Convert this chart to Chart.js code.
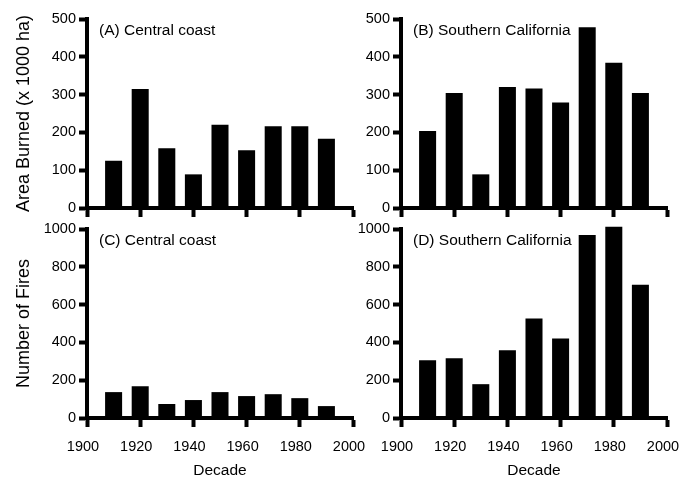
<!DOCTYPE html>
<html>
<head>
<meta charset="utf-8">
<script src="https://cdn.jsdelivr.net/npm/chart.js@4"></script>
<style>
  html, body { margin: 0; padding: 0; background: #fff; }
  #wrap { position: relative; width: 681px; height: 477px; overflow: hidden; }
  #wrap canvas { position: absolute; }
</style>
</head>
<body>
<div id="wrap">
  <canvas id="chartA" width="370" height="222" style="left:0;top:0"></canvas>
  <canvas id="chartB" width="340" height="222" style="left:355px;top:0"></canvas>
  <canvas id="chartC" width="385" height="270" style="left:0;top:210px"></canvas>
  <canvas id="chartD" width="345" height="270" style="left:355px;top:210px"></canvas>
</div>
<script>
// decades (bar centres)
const decades = [1910, 1920, 1930, 1940, 1950, 1960, 1970, 1980, 1990];

// area burned, x 1000 ha
const areaCentral = [125, 315, 158, 89, 220, 153, 216, 216, 183];
const areaSouthern = [204, 304, 89, 320, 316, 279, 478, 384, 304];

// number of fires
const firesCentral = [137, 168, 74, 95, 137, 116, 126, 105, 63];
const firesSouthern = [305, 316, 179, 358, 526, 421, 968, 1012, 705];

const panelTitles = ['(A) Central coast', '(B) Southern California', '(C) Central coast', '(D) Southern California'];
const areaTitle = 'Area Burned (x 1000 ha)';
const firesTitle = 'Number of Fires';
const xTitle = 'Decade';

const FONT = '"Liberation Sans", Arial, sans-serif';
const tickFont = { family: FONT, size: 14.5 };

// label in the top left corner of each panel
const panelLabel = {
    id: 'panelLabel',
    afterDraw(chart, args, opts) {
        const { ctx, chartArea } = chart;
        ctx.save();
        ctx.font = '15.5px ' + FONT;
        ctx.fillStyle = '#000';
        ctx.textBaseline = 'middle';
        ctx.fillText(opts.text, chartArea.left + 12, chartArea.top + 12);
        ctx.restore();
    }
};

function makeChart(id, values, cfg) {
    const canvas = document.getElementById(id);
    return new Chart(canvas, {
        type: 'bar',
        data: {
            datasets: [{
                data: decades.map((d, i) => ({ x: d, y: values[i] })),
                backgroundColor: '#000',
                borderWidth: 0,
                barPercentage: 0.64,
                categoryPercentage: 1,
                clip: false
            }]
        },
        options: {
            responsive: false,
            animation: false,
            events: [],
            layout: { padding: { left: 0, top: 19, right: cfg.padRight, bottom: 0 } },
            scales: {
                x: {
                    type: 'linear',
                    min: 1900,
                    max: 2000,
                    offset: false,
                    afterFit: s => { s.height = cfg.xHeight; },
                    grid: {
                        offset: false,
                        drawOnChartArea: false,
                        tickLength: 9,
                        tickWidth: 4,
                        tickColor: '#000'
                    },
                    border: { display: true, width: 4, color: '#000' },
                    ticks: {
                        display: cfg.showX,
                        stepSize: 20,
                        color: '#000',
                        font: tickFont,
                        padding: 11,
                        labelOffset: -4,
                        maxRotation: 0,
                        callback: v => String(v)
                    },
                    title: {
                        display: cfg.showX,
                        text: xTitle,
                        color: '#000',
                        font: { family: FONT, size: 15.5 },
                        padding: { top: 0, bottom: 0 }
                    }
                },
                y: {
                    min: 0,
                    max: cfg.yMax,
                    afterFit: s => { s.width = cfg.yWidth; },
                    grid: {
                        drawOnChartArea: false,
                        tickLength: 8,
                        tickWidth: 4,
                        tickColor: '#000'
                    },
                    border: { display: true, width: 4, color: '#000' },
                    ticks: {
                        stepSize: cfg.yStep,
                        color: '#000',
                        font: tickFont,
                        padding: 3,
                        callback: v => String(v)
                    },
                    title: {
                        display: !!cfg.yTitle,
                        text: cfg.yTitle || '',
                        color: '#000',
                        font: { family: FONT, size: 18 },
                        padding: { top: 13, bottom: 0 }
                    }
                }
            },
            plugins: {
                legend: { display: false },
                tooltip: { enabled: false },
                panelLabel: { text: cfg.label }
            }
        },
        plugins: [panelLabel]
    });
}

makeChart('chartA', areaCentral, {
    label: panelTitles[0], yMax: 500, yStep: 100, yTitle: areaTitle,
    yWidth: 87, xHeight: 14, padRight: 17, showX: false
});
makeChart('chartB', areaSouthern, {
    label: panelTitles[1], yMax: 500, yStep: 100,
    yWidth: 46, xHeight: 14, padRight: 28, showX: false
});
makeChart('chartC', firesCentral, {
    label: panelTitles[2], yMax: 1000, yStep: 200, yTitle: firesTitle,
    yWidth: 87, xHeight: 62, padRight: 32, showX: true
});
makeChart('chartD', firesSouthern, {
    label: panelTitles[3], yMax: 1000, yStep: 200,
    yWidth: 46, xHeight: 62, padRight: 33, showX: true
});
</script>
</body>
</html>
